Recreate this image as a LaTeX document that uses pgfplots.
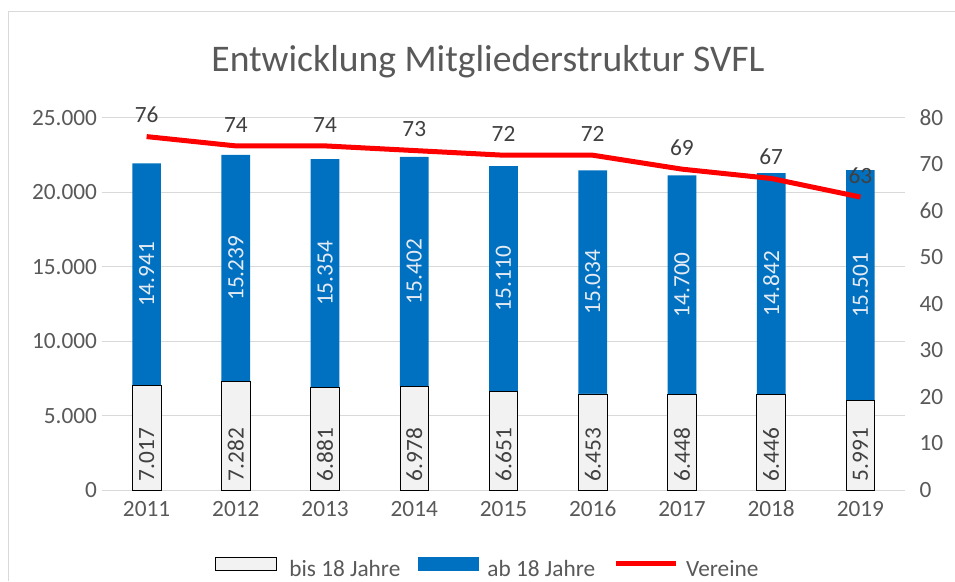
\documentclass[border=0pt]{standalone}
\usepackage{fontspec}
\setmainfont{Carlito}
\usepackage{pgfplots}
\usepackage{pgfplotstable}
\pgfplotsset{compat=1.18}
\definecolor{txt}{HTML}{595959}
\definecolor{dtxt}{HTML}{404040}
\definecolor{gridc}{HTML}{D9D9D9}
\definecolor{bblue}{HTML}{0070C0}
\definecolor{lgray}{HTML}{F2F2F2}
\definecolor{vred}{HTML}{FF0000}
\definecolor{ltxt}{HTML}{E4EBF4}

\pgfplotstableread{
x bis ab ver
0 7017 14941 76
1 7282 15239 74
2 6881 15354 74
3 6978 15402 73
4 6651 15110 72
5 6453 15034 72
6 6448 14700 69
7 6446 14842 67
8 5991 15501 63
}\data

\newcommand{\fs}{\fontsize{23.3}{28}\selectfont}

\begin{document}
\begin{tikzpicture}[x=1pt,y=1pt]
\useasboundingbox (0,0) rectangle (955,581);
\draw[gridc, line width=1pt] (8,0) -- (8,569) -- (955,569);
\node[anchor=base, text=txt, font=\fontsize{37.6}{45}\selectfont, inner sep=0pt] at (488,509) {Entwicklung Mitgliederstruktur SVFL};
\begin{axis}[
 at={(102pt,91pt)}, anchor=south west, scale only axis, width=803pt, height=372pt,
 xmin=-0.5, xmax=8.5, ymin=0, ymax=25000,
 ybar stacked, bar width=28.7pt,
 axis x line*=bottom, axis y line*=left, axis line style={draw=none},
 xtick={0,...,8}, xticklabels={2011,2012,2013,2014,2015,2016,2017,2018,2019},
 ytick={0,5000,...,25000}, scaled y ticks=false,
 major tick length=0pt,
 ymajorgrids, grid style={gridc, line width=1pt},
 tick label style={font=\fs, text=txt},
 yticklabel style={xshift=-1.5pt},
 xticklabel style={anchor=base, yshift=-26pt},
 /pgf/number format/1000 sep={.},
 /pgf/number format/assume math mode=true,
 legend style={at={(axis description cs:0.4788,-0.2083)}, anchor=center, draw=none, fill=none, inner sep=0pt, font=\fs, text=txt, legend columns=3, nodes={inner sep=0pt}, /tikz/every odd column/.append style={column sep=8pt}, /tikz/every even column/.append style={column sep=18pt}},
 legend cell align=left,
 clip=false,
]
\addplot[fill=lgray, draw=black, line width=0.8pt,
  legend image code/.code={\draw[fill=lgray, draw=black, line width=0.8pt] (0pt,-1pt) rectangle (61pt,12.6pt); \path (66pt,0pt);}
] table[x=x, y=bis] {\data};
\addplot[fill=bblue, draw=none,
  legend image code/.code={\fill[bblue] (0pt,-1pt) rectangle (61pt,12.6pt);}
] table[x=x, y=ab] {\data};
\addlegendimage{legend image code/.code={\draw[vred, line width=5pt] (0pt,6.3pt) -- (60pt,6.3pt);}}
\legend{bis 18 Jahre, ab 18 Jahre, Vereine}
\end{axis}
% segment labels
\begin{axis}[
 at={(102pt,91pt)}, anchor=south west, scale only axis, width=803pt, height=372pt,
 xmin=-0.5, xmax=8.5, ymin=0, ymax=25000, hide axis, clip=false]
\addplot[draw=none, mark=none, point meta=explicit,
  nodes near coords={\pgfmathprintnumber[fixed, precision=0, 1000 sep={.}, assume math mode=true]{\pgfplotspointmeta}},
  nodes near coords style={rotate=90, anchor=west, font=\fs, text=dtxt, inner xsep=8.5pt, inner ysep=0pt}
] table[x=x, y expr=0, meta=bis] {\data};
\addplot[draw=none, mark=none, point meta=explicit,
  nodes near coords={\pgfmathprintnumber[fixed, precision=0, 1000 sep={.}, assume math mode=true]{\pgfplotspointmeta}},
  nodes near coords style={rotate=90, anchor=center, font=\fs, text=ltxt, inner sep=0pt}
] table[x=x, y expr=\thisrow{bis}+\thisrow{ab}/2, meta=ab] {\data};
\end{axis}
\begin{axis}[
 at={(102pt,91pt)}, anchor=south west, scale only axis, width=803pt, height=372pt,
 xmin=-0.5, xmax=8.5, ymin=0, ymax=80,
 axis y line*=right, axis x line=none, axis line style={draw=none},
 ytick={0,10,...,80}, major tick length=0pt,
 tick label style={font=\fs, text=txt}, yticklabel style={xshift=11pt},
 /pgf/number format/assume math mode=true, clip=false]
\addplot[vred, line width=5pt, line join=round, mark=none,
  nodes near coords,
  nodes near coords style={anchor=south, inner sep=0pt, yshift=11pt, font=\fs, text=dtxt}
] table[x=x, y=ver] {\data};
\end{axis}
\end{tikzpicture}
\end{document}
